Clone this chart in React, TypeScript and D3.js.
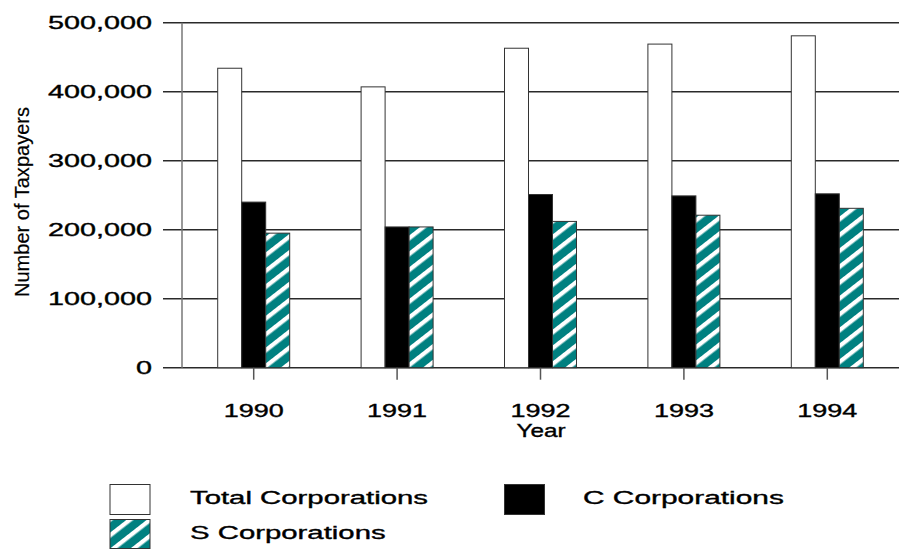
import React from "react";
import * as d3 from "d3";

const years = ["1990", "1991", "1992", "1993", "1994"];
const totalCorps = [434000, 407000, 463000, 469000, 481000];
const cCorps = [240000, 204000, 251000, 249000, 252000];
const sCorps = [195000, 204000, 212000, 221000, 231000];
const yTicks = [0, 100000, 200000, 300000, 400000, 500000];
const seriesKeys = ["total", "c", "s"];
const legendLabels = ["Total Corporations", "C Corporations", "S Corporations"];

const W = 899;
const H = 550;
const FONT = "'Liberation Sans', Arial, sans-serif";
const TS = { stroke: "#000", strokeWidth: 0.35 };

export default function App() {
  const x = d3.scaleBand<string>().domain(years).range([182, 899]).padding(0);
  const y = d3.scaleLinear().domain([0, 500000]).range([367.7, 22.7]);
  const xg = d3.scaleBand<string>().domain(seriesKeys).range([-36, 36]).padding(0);
  const fmt = d3.format(",");
  const fills: Record<string, string> = { total: "#ffffff", c: "#000000", s: "url(#hatch)" };
  const data: Record<string, number[]> = { total: totalCorps, c: cCorps, s: sCorps };

  return (
    <div style={{ position: "absolute", left: 0, top: 0 }}>
      <svg width={W} height={H} style={{ display: "block", background: "#fff" }}>
        <defs>
          <pattern id="hatch" patternUnits="userSpaceOnUse" width="40" height="12.5" patternTransform="rotate(-38)">
            <rect x="0" y="0" width="40" height="12.5" fill="#008080" />
            <rect x="0" y="0" width="40" height="4.3" fill="#ffffff" />
          </pattern>
        </defs>

        {yTicks.map((t) => (
          <line key={"g" + t} x1={163} x2={899} y1={y(t)} y2={y(t)} stroke="#2a2a2a" strokeWidth={1.5} />
        ))}
        <line x1={182} x2={182} y1={y(500000)} y2={y(0)} stroke="#777" strokeWidth={1.5} />

        {yTicks.map((t) => (
          <text
            key={"yl" + t}
            transform={`translate(152,${y(t) + 6.6}) scale(1.6,1)`}
            textAnchor="end"
            fontFamily={FONT}
            fontSize={18}
            fill="#000"
            {...TS}
          >
            {fmt(t)}
          </text>
        ))}

        <text
          transform={`translate(29,202) rotate(-90)`}
          textAnchor="middle"
          fontFamily={FONT}
          fontSize={20}
          textLength={190}
          lengthAdjust="spacingAndGlyphs"
          stroke="#000"
          strokeWidth={0.2}
        >
          Number of Taxpayers
        </text>

        {years.map((yr, i) => {
          const cx = (x(yr) as number) + x.bandwidth() / 2;
          return (
            <g key={yr}>
              {seriesKeys.map((k) => (
                <rect
                  key={k}
                  x={cx + (xg(k) as number)}
                  y={y(data[k][i])}
                  width={xg.bandwidth()}
                  height={y(0) - y(data[k][i])}
                  fill={fills[k]}
                  stroke="#333"
                  strokeWidth={1}
                />
              ))}
              <line x1={cx} x2={cx} y1={y(0)} y2={y(0) + 12} stroke="#555" strokeWidth={1.5} />
              <text
                transform={`translate(${cx},417) scale(1.5,1)`}
                textAnchor="middle"
                fontFamily={FONT}
                fontSize={18}
                {...TS}
              >
                {yr}
              </text>
            </g>
          );
        })}

        <text transform={`translate(541,437) scale(1.35,1)`} textAnchor="middle" fontFamily={FONT} fontSize={18} {...TS}>
          Year
        </text>

        <rect x={110} y={484.5} width={40} height={30} fill="#fff" stroke="#333" strokeWidth={1} />
        <text transform="translate(190,504) scale(1.63,1)" fontFamily={FONT} fontSize={18} {...TS}>
          {legendLabels[0]}
        </text>
        <rect x={504.5} y={484.5} width={40} height={30} fill="#000" stroke="#333" strokeWidth={1} />
        <text transform="translate(583,504) scale(1.66,1)" fontFamily={FONT} fontSize={18} {...TS}>
          {legendLabels[1]}
        </text>
        <rect x={110} y={519.5} width={40} height={29} fill="url(#hatch)" stroke="#333" strokeWidth={1} />
        <text transform="translate(190,538.5) scale(1.63,1)" fontFamily={FONT} fontSize={18} {...TS}>
          {legendLabels[2]}
        </text>
      </svg>
    </div>
  );
}
